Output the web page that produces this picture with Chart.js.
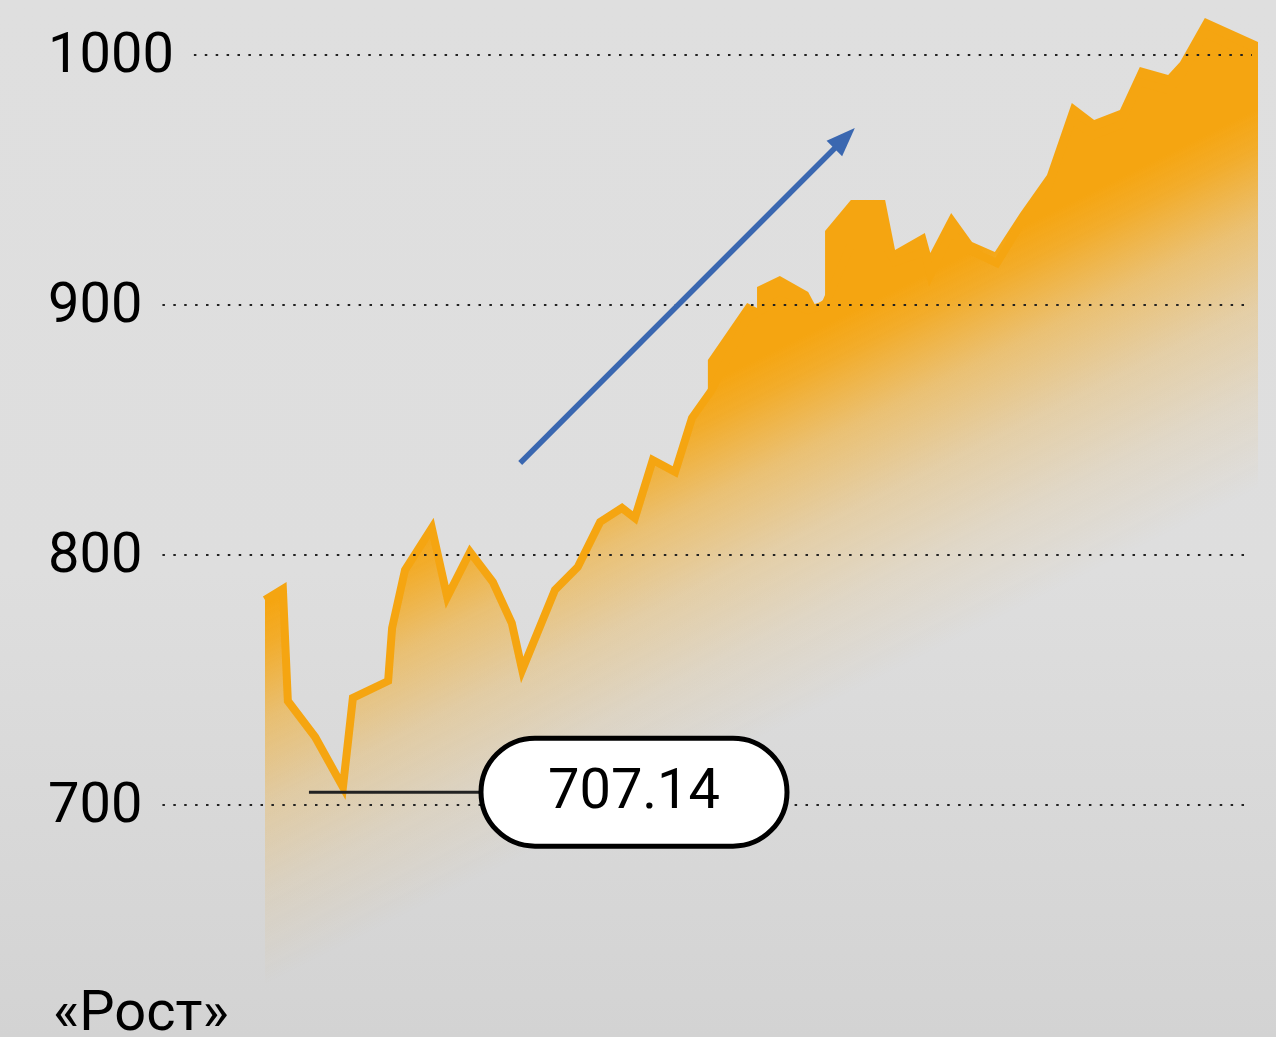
<!DOCTYPE html>
<html lang="ru">
<head>
<meta charset="utf-8">
<title>«Рост»</title>
<script src="https://cdn.jsdelivr.net/npm/chart.js@4.4.1/dist/chart.umd.min.js"></script>
<style>
    html, body { margin: 0; padding: 0; }
    body {
        width: 1276px;
        height: 1037px;
        overflow: hidden;
        background: linear-gradient(#dfdfdf 0%, #dedede 55%, #d3d3d3 100%);
    }
    #chart { display: block; }
</style>
</head>
<body>
<canvas id="chart" width="1276" height="1037"></canvas>
<script>
// Values (x = trading day, y = index value)
const lineDays = [0, 3.6, 4.6, 10.1, 15.7, 17.7, 24.8, 25.6, 28.2, 33.6, 36.7, 41.3, 45.9, 49.7, 51.8,
    58.4, 63.0, 67.5, 71.9, 74.5, 78.1, 82.6, 86.0, 90.0, 97.1, 103.7, 109.4, 112.8, 118.0, 124.9,
    126.9, 132.9, 134.0, 138.2, 141.8, 147.4, 152.5, 157.5, 162.5, 167.0, 172.2, 176.2, 181.9, 184.3,
    189.3, 199.4];
const lineValues = [782, 786.4, 741.6, 727.2, 707.14, 742.8, 749.6, 770.8, 794, 810.8, 783.2, 801.2, 789.2, 772.8, 754,
    786, 795.2, 813.2, 818.8, 814.8, 838, 833.2, 854.8, 866, 894.8, 902, 898, 900, 924, 924,
    917.2, 921.2, 912, 929.2, 922, 916.8, 933.2, 946, 974, 968, 972, 989.2, 986, 991.2,
    1008.8, 999.2];

// upper edge of the shaded area (differs from the line on the right part)
const areaDays = [0, 3.6, 4.6, 10.1, 15.7, 17.7, 24.8, 25.6, 28.2, 33.6, 36.7, 41.3, 45.9, 49.7, 51.8,
    58.4, 63.0, 67.5, 71.9, 74.5, 78.1, 82.6, 86.0, 89.2, 89.2, 97.1, 99.1, 99.1, 103.7, 109.4, 110.8,
    112.8, 112.8, 118.0, 124.9, 126.9, 132.9, 134.0, 138.2, 142.4, 147.0, 152.1, 157.5, 162.5, 167.0,
    172.2, 176.2, 181.9, 184.3, 189.3, 200];
const areaValues = [782, 786.4, 741.6, 727.2, 707.14, 742.8, 749.6, 770.8, 794, 810.8, 783.2, 801.2, 789.2, 772.8, 754,
    786, 795.2, 813.2, 818.8, 814.8, 838, 833.2, 854.8, 866, 878, 900.8, 898.8, 907.2, 911.6, 905.2, 900,
    902.4, 929.6, 942, 942, 922, 928.8, 920.8, 936.8, 925.2, 921.2, 936.8, 952, 980.8, 974,
    978, 995.2, 992, 997.2, 1014.8, 1005.2];

const yTicks = [700, 800, 900, 1000];
const minLabel = '707.14';
const seriesTitle = '«Рост»';

// trend arrow, start and end (day, value)
const trendDays = [51.4, 118.8];
const trendValues = [836.8, 970.8];

const ORANGE = '#f5a511';
const FONT = '"Roboto", "Liberation Sans", sans-serif';

function toPoints(xs, ys) {
    return xs.map((x, i) => ({ x: x, y: ys[i] }));
}

// Diagonal fade of the area: solid orange up top, grey towards bottom-left
function areaFill(context) {
    const ctx = context.chart.ctx;
    const g = ctx.createLinearGradient(295, 590, 447, 894);
    g.addColorStop(0, 'rgba(245,165,17,1)');
    g.addColorStop(0.1, 'rgba(245,165,17,0.88)');
    g.addColorStop(0.3, 'rgba(245,165,17,0.52)');
    g.addColorStop(0.52, 'rgba(245,165,17,0.27)');
    g.addColorStop(0.75, 'rgba(245,165,17,0.11)');
    g.addColorStop(1, 'rgba(245,165,17,0)');
    return g;
}

// Nudge the y tick labels a few pixels down so the digits sit on the guides
const labelShift = {
    id: 'labelShift',
    beforeDraw(chart) {
        const y = chart.scales.y;
        y.getLabelItems(chart.chartArea).forEach(item => {
            item.options.translation[1] += 3;
        });
    }
};

// Dotted guides, min marker, trend arrow and caption
const decorPlugin = {
    id: 'decor',
    afterDatasetsDraw(chart) {
        const ctx = chart.ctx;
        const x = chart.scales.x;
        const y = chart.scales.y;

        ctx.save();

        // dotted grid lines starting right after each label
        ctx.font = '56px ' + FONT;
        ctx.strokeStyle = '#222';
        ctx.lineWidth = 2;
        ctx.setLineDash([2.5, 8.4]);
        yTicks.forEach(v => {
            const py = Math.round(y.getPixelForValue(v));
            const w = ctx.measureText(String(v)).width;
            ctx.beginPath();
            ctx.moveTo(48 + w + 20, py);
            ctx.lineTo(1252, py);
            ctx.stroke();
        });
        ctx.setLineDash([]);

        // marker for the minimum
        const minIdx = lineValues.indexOf(Math.min(...lineValues));
        const mx = x.getPixelForValue(lineDays[minIdx]);
        const my = y.getPixelForValue(lineValues[minIdx]) + 5;
        const pillL = 481, pillW = 306, pillH = 108;
        ctx.strokeStyle = '#222';
        ctx.lineWidth = 3;
        ctx.beginPath();
        ctx.moveTo(mx - 34, my);
        ctx.lineTo(pillL, my);
        ctx.stroke();

        const r = pillH / 2;
        ctx.beginPath();
        ctx.moveTo(pillL + r, my - r);
        ctx.lineTo(pillL + pillW - r, my - r);
        ctx.arc(pillL + pillW - r, my, r, -Math.PI / 2, Math.PI / 2);
        ctx.lineTo(pillL + r, my + r);
        ctx.arc(pillL + r, my, r, Math.PI / 2, Math.PI * 1.5);
        ctx.closePath();
        ctx.fillStyle = '#fff';
        ctx.fill();
        ctx.lineWidth = 5;
        ctx.strokeStyle = '#000';
        ctx.stroke();

        ctx.fillStyle = '#000';
        ctx.textAlign = 'center';
        ctx.textBaseline = 'middle';
        ctx.font = '56px ' + FONT;
        ctx.fillText(minLabel, pillL + pillW / 2, my + 2);

        // trend arrow
        const x0 = x.getPixelForValue(trendDays[0]);
        const y0 = y.getPixelForValue(trendValues[0]);
        const x1 = x.getPixelForValue(trendDays[1]);
        const y1 = y.getPixelForValue(trendValues[1]);
        const ang = Math.atan2(y1 - y0, x1 - x0);
        const headLen = 29, headHalf = 11;
        const bx = x1 - Math.cos(ang) * headLen;
        const by = y1 - Math.sin(ang) * headLen;
        ctx.strokeStyle = '#3a67b0';
        ctx.fillStyle = '#3a67b0';
        ctx.lineWidth = 5.5;
        ctx.beginPath();
        ctx.moveTo(x0, y0);
        ctx.lineTo(bx + Math.cos(ang) * 4, by + Math.sin(ang) * 4);
        ctx.stroke();
        ctx.beginPath();
        ctx.moveTo(x1, y1);
        ctx.lineTo(bx + Math.sin(ang) * headHalf, by - Math.cos(ang) * headHalf);
        ctx.lineTo(bx - Math.sin(ang) * headHalf, by + Math.cos(ang) * headHalf);
        ctx.closePath();
        ctx.fill();

        // caption
        ctx.fillStyle = '#000';
        ctx.textAlign = 'left';
        ctx.textBaseline = 'alphabetic';
        ctx.font = '56px ' + FONT;
        ctx.fillText(seriesTitle, 53, 1030);

        ctx.restore();
    }
};

const chart = new Chart(document.getElementById('chart'), {
    type: 'line',
    data: {
        datasets: [
            {
                label: 'line',
                data: toPoints(lineDays, lineValues),
                borderColor: ORANGE,
                borderWidth: 8,
                borderJoinStyle: 'miter',
                borderCapStyle: 'butt',
                fill: false,
                pointRadius: 0,
                tension: 0,
                clip: false
            },
            {
                label: 'area',
                data: toPoints(areaDays, areaValues),
                borderColor: 'rgba(0,0,0,0)',
                borderWidth: 0,
                backgroundColor: areaFill,
                fill: 'start',
                pointRadius: 0,
                tension: 0,
                clip: false
            }
        ]
    },
    options: {
        responsive: false,
        animation: false,
        devicePixelRatio: 1,
        layout: { padding: { left: 48, right: 18, top: 5, bottom: 7 } },
        plugins: {
            legend: { display: false },
            tooltip: { enabled: false }
        },
        scales: {
            x: {
                type: 'linear',
                min: 0,
                max: 200,
                display: false
            },
            y: {
                type: 'linear',
                min: 610,
                max: 1020,
                grid: { display: false },
                border: { display: false },
                afterBuildTicks: axis => {
                    axis.ticks = yTicks.map(v => ({ value: v }));
                },
                afterFit: axis => {
                    axis.width = 217;
                    axis.paddingTop = 0;
                    axis.paddingBottom = 0;
                },
                ticks: {
                    crossAlign: 'far',
                    color: '#000',
                    font: { family: FONT, size: 56 },
                    callback: v => String(v)
                }
            }
        }
    },
    plugins: [labelShift, decorPlugin]
});
</script>
</body>
</html>
